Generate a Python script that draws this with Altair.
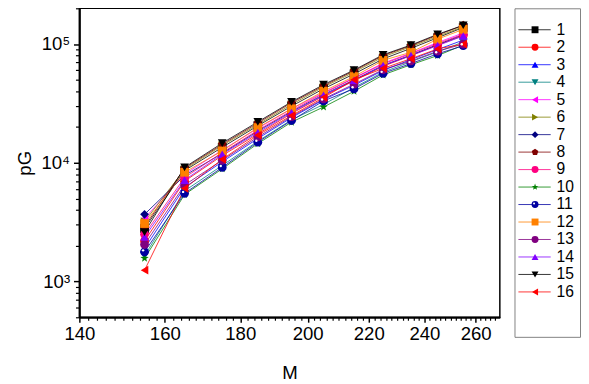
import altair as alt
import pandas as pd

M = [155, 165, 175, 185, 195, 205, 215, 225, 235, 245, 255]
names = [str(i) for i in range(1, 17)]

s1 = [2800, 8600, 13500, 20500, 30000, 42000, 56000, 75000, 92000, 113000, 138000]
s2 = [2200, 7000, 11500, 17500, 26000, 36500, 49000, 65000, 80000, 98000, 118000]
s3 = [1900, 6200, 10200, 16000, 24000, 34000, 45000, 60000, 74000, 90000, 108000]
s4 = [1650, 5800, 9500, 15200, 23000, 31000, 43000, 58000, 71000, 86000, 104000]
s5 = [3400, 8000, 12800, 19500, 28500, 39000, 52000, 69000, 84000, 103000, 124000]
s6 = [3200, 8800, 14000, 21000, 31000, 43500, 58000, 78000, 95000, 116000, 140000]
s7 = [3680, 7800, 12000, 18500, 27000, 37500, 50000, 66000, 81000, 99000, 120000]
s8 = [2900, 9000, 14300, 21600, 32000, 44500, 59500, 80000, 97000, 119000, 144000]
s9 = [2500, 7500, 12200, 18800, 27500, 38500, 51500, 68000, 83000, 101000, 121000]
s10 = [1570, 5400, 8900, 14500, 22000, 29500, 40000, 55000, 67000, 80000, 98000]
s11 = [1780, 5530, 9140, 14900, 22700, 33200, 42000, 56700, 68500, 82800, 96800]
s12 = [3080, 8320, 12600, 19800, 28500, 40100, 53200, 72900, 85300, 110000, 133000]
s13 = [2050, 6500, 10500, 16500, 24500, 34500, 46000, 61000, 72000, 87000, 100000]
s14 = [2370, 7150, 11800, 18000, 26500, 37000, 49500, 66000, 80000, 97000, 117000]
s15 = [2600, 9150, 14650, 22100, 32600, 45500, 60400, 81300, 98100, 120800, 143900]
s16 = [1245, 6080, 10700, 17100, 25000, 35400, 50000, 62400, 75300, 91000, 100000]
series = [s1, s2, s3, s4, s5, s6, s7, s8, s9, s10, s11, s12, s13, s14, s15, s16]

colors = ["#000000", "#FF0000", "#0000FF", "#008080", "#FF00FF", "#808000",
          "#000080", "#800000", "#FF0080", "#008000", "#0000A0", "#FF8000",
          "#800080", "#8000FF", "#000000", "#FF0000"]
PENT = "M0,-1L0.951,-0.309L0.588,0.809L-0.588,0.809L-0.951,-0.309Z"
STAR = ("M0,-1L0.235,-0.324L0.951,-0.309L0.380,0.124L0.588,0.809L0,0.4"
        "L-0.588,0.809L-0.380,0.124L-0.951,-0.309L-0.235,-0.324Z")
shapes = ["square", "circle", "triangle-up", "triangle-down", "triangle-left",
          "triangle-right", "diamond", PENT, "circle", STAR, "circle", "square",
          "circle", "triangle-up", "triangle-down", "triangle-left"]

x_major = [140, 160, 180, 200, 220, 240, 260]
x_minor = [v for v in range(142, 270, 2) if v % 20 != 0]
y_major = [1000, 10000, 100000]
y_minor = [k * 10 ** e for e in (2, 3, 4, 5) for k in range(2, 10)
           if 500 <= k * 10 ** e <= 200000]

rows = []
for n, vals in zip(names, series):
    for m, v in zip(M, vals):
        rows.append({"s": n, "M": m, "pG": v})
df = pd.DataFrame(rows)

FONT = "Liberation Sans"
xscale = alt.Scale(type="log", domain=[140, 270], nice=False)
yscale = alt.Scale(type="log", domain=[500, 200000], nice=False)
cscale = alt.Scale(domain=names, range=colors)
shscale = alt.Scale(domain=names, range=shapes)

common = dict(grid=False, domainColor="black", tickColor="black",
              labelColor="black", titleColor="black", labelFont=FONT,
              titleFont=FONT, titleFontWeight="normal", labelFlush=False)

x_axis = alt.Axis(values=x_major, format="d", title="M", orient="bottom",
                  tickSize=5, tickWidth=1.5, domainWidth=2, labelFontSize=19,
                  labelPadding=3, titleFontSize=19, titlePadding=21, **common)
y_axis = alt.Axis(values=y_major, orient="left", title="pG",
                  labelExpr="datum.value == 1000 ? '10\u00b3' : datum.value == 10000 ? '10\u2074' : '10\u2075'",
                  tickSize=6, tickWidth=1.5, domainWidth=2, labelFontSize=19,
                  labelPadding=4, titleFontSize=19, titlePadding=7, **common)
x_minor_axis = alt.Axis(values=x_minor, orient="bottom", labels=False,
                        domain=False, tickSize=3, tickWidth=1.2, title=None,
                        grid=False, tickColor="black")
y_minor_axis = alt.Axis(values=y_minor, orient="left", labels=False,
                        domain=False, tickSize=4, tickWidth=1.2, title=None,
                        grid=False, tickColor="black")

base = alt.Chart(df)
lines = base.mark_line(strokeWidth=0.8).encode(
    x=alt.X("M:Q", scale=xscale, axis=x_axis),
    y=alt.Y("pG:Q", scale=yscale, axis=y_axis),
    color=alt.Color("s:N", scale=cscale, legend=None),
)
points = base.mark_point(filled=True, size=80, opacity=1).encode(
    x=alt.X("M:Q", scale=xscale, axis=None),
    y=alt.Y("pG:Q", scale=yscale, axis=None),
    color=alt.Color("s:N", scale=cscale, legend=None),
    shape=alt.Shape("s:N", scale=shscale, legend=None),
)
shine = base.transform_filter(alt.datum.s == "11").mark_point(
    filled=True, size=6, opacity=1, color="white", shape="circle",
    xOffset=-1.5, yOffset=-1.5).encode(
    x=alt.X("M:Q", scale=xscale, axis=None),
    y=alt.Y("pG:Q", scale=yscale, axis=None),
)
minor = base.mark_point(opacity=0).encode(
    x=alt.X("M:Q", scale=xscale, axis=x_minor_axis),
    y=alt.Y("pG:Q", scale=yscale, axis=y_minor_axis),
)
main = alt.layer(lines, points, shine, minor).resolve_axis(
    x="independent", y="independent"
).properties(width=430, height=316,
             view=alt.ViewBackground(stroke="black", strokeWidth=1.5))

leg_df = pd.DataFrame({"s": names})
lb = alt.Chart(leg_df)
ly = alt.Y("s:N", scale=alt.Scale(domain=names, range=[13, 299], padding=0),
           axis=None)
lrule = lb.mark_rule(strokeWidth=0.8).encode(
    x=alt.value(4), x2=alt.value(37), y=ly,
    color=alt.Color("s:N", scale=cscale, legend=None),
)
lsym = lb.mark_point(filled=True, size=50, opacity=1).encode(
    x=alt.value(21), y=ly,
    color=alt.Color("s:N", scale=cscale, legend=None),
    shape=alt.Shape("s:N", scale=shscale, legend=None),
)
lshine = lb.transform_filter(alt.datum.s == "11").mark_point(
    filled=True, size=4, opacity=1, color="white", shape="circle",
    xOffset=-1, yOffset=-1).encode(x=alt.value(21), y=ly)
ltxt = lb.mark_text(align="left", baseline="middle", fontSize=16, font=FONT,
                    color="black").encode(x=alt.value(43), y=ly, text="s:N")
legend = alt.layer(lrule, lsym, lshine, ltxt).properties(
    width=67, height=336,
    view=alt.ViewBackground(stroke="#808080", strokeWidth=1))

chart = alt.hconcat(main, legend, spacing=13).properties(
    padding={"left": 6, "top": -6, "right": 0, "bottom": 0},
    background="white",
).configure(font=FONT)

chart.save("out.html", embed_options={"renderer": "svg", "actions": False})
